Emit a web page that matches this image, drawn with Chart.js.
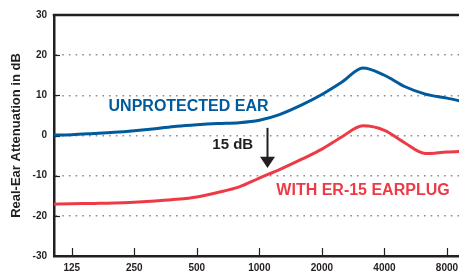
<!DOCTYPE html>
<html>
<head>
<meta charset="utf-8">
<script src="https://cdn.jsdelivr.net/npm/chart.js@4/dist/chart.umd.min.js"></script>
<style>
  html, body { margin: 0; padding: 0; background: #fff; }
  #wrap { width: 459px; height: 276px; }
</style>
</head>
<body>
<div id="wrap"><canvas id="grafico"></canvas></div>
<script>
// Frecuencias (Hz) y atenuacion (dB)
const frecuencias = [100, 125, 160, 200, 250, 315, 400, 500, 630, 800, 1000, 1250, 1600, 2000, 2500, 3150, 4000, 5000, 6300, 8000, 10000];
const sinProteccion = [0.1, 0.2, 0.5, 0.8, 1.2, 1.7, 2.3, 2.7, 3.0, 3.2, 3.8, 5.2, 7.6, 10.2, 13.3, 16.8, 15.0, 12.2, 10.3, 9.3, 8.2];
const conTapon = [-17.1, -17.0, -16.9, -16.8, -16.6, -16.3, -15.9, -15.3, -14.2, -12.8, -10.6, -8.5, -5.9, -3.4, -0.3, 2.4, 1.3, -1.8, -4.5, -4.1, -3.9];
const ticksX = [125, 250, 500, 1000, 2000, 4000, 8000];
const ticksY = [-20, -10, 0, 10, 20];

const fuente = '"Liberation Sans", Arial, Helvetica, sans-serif';
const tinta = '#231f20';
const azul = '#005a9c';
const rojo = '#ee3a46';

// Marcas interiores, linea superior y textos
const extras = {
    id: 'extras',
    beforeDatasetsDraw(chart) {
        const {ctx, chartArea, scales: {x, y}} = chart;
        ctx.save();
        ctx.strokeStyle = tinta;
        ctx.lineWidth = 2.5;
        ctx.beginPath();
        ctx.moveTo(chartArea.left - 1.25, y.getPixelForValue(30));
        ctx.lineTo(chartArea.right, y.getPixelForValue(30));
        ctx.stroke();

        ctx.lineWidth = 1.2;
        ticksX.forEach(v => {
            const px = Math.round(x.getPixelForValue(v)) + 0.5;
            ctx.beginPath();
            ctx.moveTo(px, chartArea.bottom);
            ctx.lineTo(px, chartArea.bottom - 8);
            ctx.stroke();
        });
        ticksY.forEach(v => {
            const py = Math.round(y.getPixelForValue(v)) + 0.5;
            ctx.beginPath();
            ctx.moveTo(chartArea.left, py);
            ctx.lineTo(chartArea.left + 6, py);
            ctx.stroke();
        });
        ctx.restore();
    },
    afterDatasetsDraw(chart) {
        const {ctx, scales: {x, y}} = chart;
        ctx.save();
        ctx.textBaseline = 'middle';
        ctx.textAlign = 'left';
        ctx.font = 'bold 16px ' + fuente;
        ctx.fillStyle = azul;
        ctx.fillText('UNPROTECTED EAR', x.getPixelForValue(188), y.getPixelForValue(7.3));
        ctx.fillStyle = rojo;
        ctx.fillText('WITH ER-15 EARPLUG', x.getPixelForValue(1207), y.getPixelForValue(-13.6));
        ctx.font = 'bold 15px ' + fuente;
        ctx.fillStyle = tinta;
        ctx.fillText('15 dB', x.getPixelForValue(594), y.getPixelForValue(-2.3));

        // flecha de 15 dB
        const ax = Math.round(x.getPixelForValue(1093)) + 0.5;
        const y0 = y.getPixelForValue(1.9);
        const yBase = y.getPixelForValue(-5.3);
        const yPunta = y.getPixelForValue(-8.1);
        ctx.strokeStyle = tinta;
        ctx.lineWidth = 2;
        ctx.beginPath();
        ctx.moveTo(ax, y0);
        ctx.lineTo(ax, yBase + 1);
        ctx.stroke();
        ctx.beginPath();
        ctx.moveTo(ax - 7.5, yBase);
        ctx.lineTo(ax + 7.5, yBase);
        ctx.lineTo(ax, yPunta);
        ctx.closePath();
        ctx.fill();
        ctx.restore();
    }
};

new Chart(document.getElementById('grafico'), {
    type: 'line',
    data: {
        datasets: [{
            label: 'UNPROTECTED EAR',
            data: frecuencias.map((f, i) => ({x: f, y: sinProteccion[i]})),
            borderColor: azul,
            borderWidth: 3,
            pointRadius: 0,
            cubicInterpolationMode: 'monotone',
            fill: false
        }, {
            label: 'WITH ER-15 EARPLUG',
            data: frecuencias.map((f, i) => ({x: f, y: conTapon[i]})),
            borderColor: rojo,
            borderWidth: 3,
            pointRadius: 0,
            cubicInterpolationMode: 'monotone',
            fill: false
        }]
    },
    options: {
        responsive: true,
        maintainAspectRatio: false,
        animation: false,
        events: [],
        layout: { padding: { top: 15, right: 0, bottom: 0, left: 0 } },
        plugins: {
            legend: { display: false },
            tooltip: { enabled: false }
        },
        scales: {
            x: {
                type: 'logarithmic',
                min: 102.7,
                max: 9140,
                afterBuildTicks: (scale) => { scale.ticks = ticksX.map(v => ({ value: v })); },
                afterFit: (scale) => {
                    scale.height = 20;
                    scale.paddingLeft = 0;
                    scale.paddingRight = 0;
                },
                grid: { display: false, drawTicks: false },
                border: { display: true, color: tinta, width: 2.5 },
                ticks: {
                    autoSkip: false,
                    maxRotation: 0,
                    padding: 6,
                    color: tinta,
                    font: { family: fuente, size: 10, weight: 'bold' },
                    callback: (v) => String(v)
                }
            },
            y: {
                min: -30,
                max: 30,
                afterFit: (scale) => { scale.width = 54; },
                grid: {
                    drawTicks: false,
                    lineWidth: 1.6,
                    color: (c) => (c.tick && Math.abs(c.tick.value) === 30) ? 'rgba(0,0,0,0)' : '#8c8c8c'
                },
                border: { display: true, color: tinta, width: 2.5, dash: [1.6, 5.1] },
                ticks: {
                    stepSize: 10,
                    padding: 7,
                    color: tinta,
                    font: { family: fuente, size: 10, weight: 'bold' }
                },
                title: {
                    display: true,
                    text: 'Real-Ear Attenuation in dB',
                    color: tinta,
                    padding: { top: 9, bottom: 0 },
                    font: { family: fuente, size: 13, weight: 'bold' }
                }
            }
        }
    },
    plugins: [extras]
});
</script>
</body>
</html>
